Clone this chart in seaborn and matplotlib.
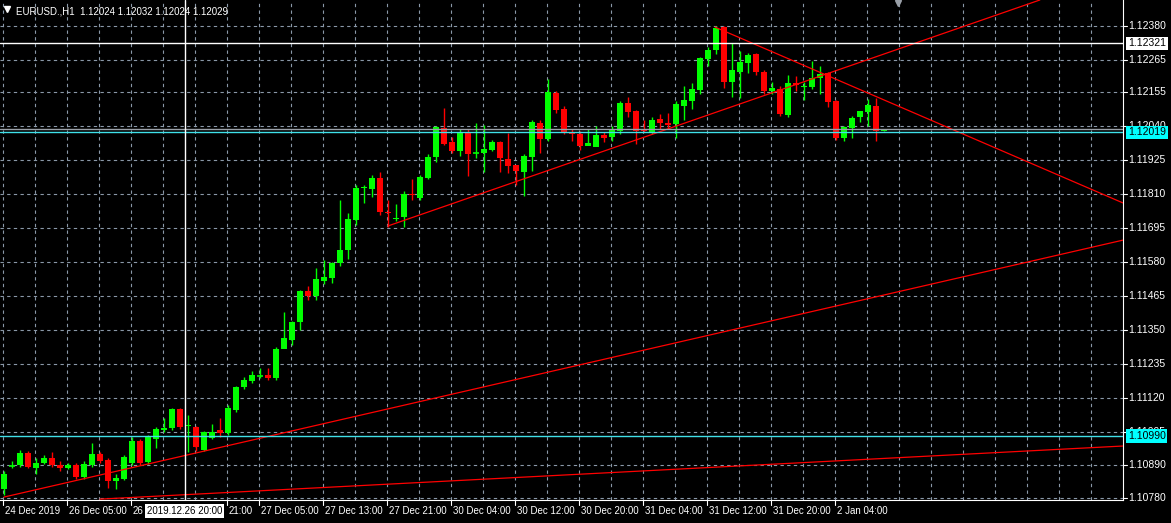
import seaborn as sns
import pandas as pd
import matplotlib.pyplot as plt
from matplotlib.patches import Rectangle

opens = [1.10810, 1.10888, 1.10892, 1.10932, 1.10882, 1.10898, 1.10916, 1.10892, 1.10882, 1.10892,
         1.10851, 1.10892, 1.10929, 1.10909, 1.10837, 1.10844, 1.10898, 1.10973, 1.10902, 1.10980,
         1.11010, 1.11017, 1.11081, 1.11024, 1.11020, 1.10943, 1.10983, 1.11010, 1.11000, 1.11078,
         1.11156, 1.11176, 1.11193, 1.11197, 1.11187, 1.11285, 1.11315, 1.11376, 1.11481, 1.11465,
         1.11515, 1.11526, 1.11576, 1.11620, 1.11722, 1.11831, 1.11827, 1.11865, 1.11749, 1.11726,
         1.11732, 1.11810, 1.11797, 1.11865, 1.11936, 1.12034, 1.11987, 1.11956, 1.12020, 1.11949,
         1.11949, 1.11959, 1.11987, 1.11929, 1.11909, 1.11885, 1.11936, 1.12051, 1.11997, 1.12153,
         1.12098, 1.12020, 1.12014, 1.11973, 1.11970, 1.12010, 1.12004, 1.12024, 1.12119, 1.12092,
         1.12031, 1.12020, 1.12065, 1.12051, 1.12048, 1.12109, 1.12126, 1.12163, 1.12268, 1.12298,
         1.12376, 1.12190, 1.12224, 1.12254, 1.12285, 1.12224, 1.12160, 1.12166, 1.12078, 1.12187,
         1.12173, 1.12173, 1.12204, 1.12221, 1.12126, 1.12000, 1.12034, 1.12071, 1.12088, 1.12109,
         1.12024]
closes = [1.10861, 1.10890, 1.10932, 1.10885, 1.10898, 1.10916, 1.10892, 1.10882, 1.10892, 1.10851,
          1.10895, 1.10929, 1.10905, 1.10837, 1.10848, 1.10919, 1.10973, 1.10898, 1.10987, 1.11013,
          1.11017, 1.11081, 1.11020, 1.11026, 1.10953, 1.11003, 1.11003, 1.11000, 1.11085, 1.11156,
          1.11180, 1.11197, 1.11195, 1.11187, 1.11285, 1.11322, 1.11376, 1.11481, 1.11465, 1.11522,
          1.11529, 1.11576, 1.11620, 1.11726, 1.11831, 1.11833, 1.11865, 1.11749, 1.11746, 1.11728,
          1.11810, 1.11807, 1.11868, 1.11936, 1.12037, 1.11980, 1.11956, 1.12017, 1.11946, 1.11951,
          1.11963, 1.11987, 1.11932, 1.11905, 1.11888, 1.11939, 1.12054, 1.11997, 1.12156, 1.12095,
          1.12020, 1.12014, 1.11973, 1.11983, 1.12010, 1.12000, 1.12027, 1.12119, 1.12088, 1.12024,
          1.12024, 1.12061, 1.12051, 1.12044, 1.12115, 1.12129, 1.12166, 1.12271, 1.12298, 1.12373,
          1.12190, 1.12231, 1.12258, 1.12282, 1.12224, 1.12160, 1.12170, 1.12081, 1.12187, 1.12180,
          1.12177, 1.12204, 1.12217, 1.12122, 1.12000, 1.12037, 1.12068, 1.12092, 1.12112, 1.12024,
          1.12029]
highs = [1.10870, 1.10905, 1.10942, 1.10940, 1.10915, 1.10925, 1.10935, 1.10905, 1.10900, 1.10900,
         1.10905, 1.10965, 1.10935, 1.10915, 1.10860, 1.10925, 1.10985, 1.10980, 1.10995, 1.11020,
         1.11050, 1.11085, 1.11085, 1.11060, 1.11025, 1.11008, 1.11030, 1.11050, 1.11095, 1.11160,
         1.11190, 1.11210, 1.11220, 1.11220, 1.11290, 1.11410, 1.11380, 1.11485, 1.11500, 1.11560,
         1.11585, 1.11580, 1.11790, 1.11745, 1.11840, 1.11840, 1.11875, 1.11885, 1.11790, 1.11775,
         1.11820, 1.11860, 1.11875, 1.11945, 1.12040, 1.12102, 1.12005, 1.12030, 1.12030, 1.12051,
         1.12044, 1.11995, 1.11990, 1.12017, 1.11900, 1.11945, 1.12060, 1.12060, 1.12200, 1.12160,
         1.12110, 1.12030, 1.12025, 1.12030, 1.12040, 1.12020, 1.12040, 1.12125, 1.12140, 1.12095,
         1.12060, 1.12070, 1.12080, 1.12085, 1.12125, 1.12175, 1.12185, 1.12275, 1.12310, 1.12380,
         1.12380, 1.12322, 1.12295, 1.12290, 1.12290, 1.12230, 1.12190, 1.12175, 1.12215, 1.12210,
         1.12190, 1.12260, 1.12245, 1.12225, 1.12130, 1.12040, 1.12075, 1.12092, 1.12132, 1.12135,
         1.12032]
lows = [1.10790, 1.10880, 1.10885, 1.10880, 1.10860, 1.10895, 1.10885, 1.10870, 1.10878, 1.10845,
        1.10845, 1.10885, 1.10898, 1.10815, 1.10810, 1.10840, 1.10890, 1.10890, 1.10895, 1.10950,
        1.11005, 1.11010, 1.11015, 1.10935, 1.10940, 1.10938, 1.10980, 1.10985, 1.10995, 1.11070,
        1.11150, 1.11170, 1.11185, 1.11180, 1.11180, 1.11310, 1.11300, 1.11350, 1.11450, 1.11450,
        1.11505, 1.11510, 1.11565, 1.11590, 1.11705, 1.11780, 1.11800, 1.11740, 1.11700, 1.11720,
        1.11700, 1.11790, 1.11790, 1.11860, 1.11920, 1.11975, 1.11950, 1.11940, 1.11870, 1.11932,
        1.11885, 1.11955, 1.11885, 1.11880, 1.11840, 1.11804, 1.11890, 1.11950, 1.11990, 1.12085,
        1.12015, 1.11990, 1.11960, 1.11975, 1.11975, 1.11985, 1.11990, 1.12015, 1.12070, 1.11980,
        1.12020, 1.12015, 1.12030, 1.12030, 1.12000, 1.12060, 1.12100, 1.12150, 1.12245, 1.12285,
        1.12170, 1.12140, 1.12135, 1.12220, 1.12215, 1.12150, 1.12150, 1.12075, 1.12070, 1.12160,
        1.12130, 1.12165, 1.12150, 1.12105, 1.11995, 1.11990, 1.12000, 1.12055, 1.12040, 1.11990,
        1.12024]

price_ticks = [1.12380, 1.12265, 1.12155, 1.12040, 1.11925, 1.11810, 1.11695, 1.11580,
               1.11465, 1.11350, 1.11235, 1.11120, 1.11005, 1.10890, 1.10780]
time_labels = ["24 Dec 2019", "26 Dec 05:00", "26", "21:00", "27 Dec 05:00", "27 Dec 13:00",
               "27 Dec 21:00", "30 Dec 04:00", "30 Dec 12:00", "30 Dec 20:00", "31 Dec 04:00",
               "31 Dec 12:00", "31 Dec 20:00", "2 Jan 04:00"]
time_label_bars = [0, 8, 16, 28, 32, 40, 48, 56, 64, 72, 80, 88, 96, 104]

# trend lines: (bar, price) start/end
trend_lines = [
    ([48, 129.5], [1.11702, 1.12468]),
    ([88.9, 139.9], [1.12376, 1.11780]),
    ([0, 139.9], [1.10783, 1.11654]),
    ([12, 139.9], [1.10776, 1.10956]),
]
hlines = {"1.12321": (1.12321, "white", "white", "black"),
          "1.12019": (1.12019, "#40e0e8", "#00ffff", "black"),
          "1.10990": (1.10990, "#40e0e8", "#00ffff", "black")}
bid_price = 1.12029

sns.set_style("dark")
plt.rcParams["font.family"] = ["Liberation Sans", "DejaVu Sans"]
fig = plt.figure(figsize=(11.71, 5.23), dpi=100, facecolor="black")
ax = fig.add_axes([0, 23 / 523, 1123 / 1171, 500 / 523])
ax.set_facecolor("black")
xmin, xmax = -0.5, 139.9
ymin, ymax = 1.10773, 1.12468
ax.set_xlim(xmin, xmax)
ax.set_ylim(ymin, ymax)

grid_c = "#8a98a8"
for p in price_ticks:
    ax.axhline(p, color=grid_c, lw=0.8, ls=(0, (3, 3)), zorder=0)
k = 0
while k * 4 - 0.1 < xmax:
    ax.axvline(k * 4 - 0.1, color=grid_c, lw=0.8, ls=(0, (3, 3)), zorder=0)
    k += 1

df = pd.DataFrame({"o": opens, "c": closes, "h": highs, "l": lows})
df["bar"] = range(len(df))
for _, r in df.iterrows():
    col = "#00ff00" if r.c >= r.o else "#ff0000"
    ax.vlines(r.bar, r.l, r.h, color=col, lw=1, zorder=2)
    lo, hi = min(r.o, r.c), max(r.o, r.c)
    if hi - lo < 0.00002:
        ax.hlines(lo, r.bar - 0.35, r.bar + 0.35, color=col, lw=1.2, zorder=3)
    else:
        ax.add_patch(Rectangle((r.bar - 0.35, lo), 0.7, hi - lo, color=col, lw=0, zorder=3))

for xs, ys in trend_lines:
    sns.lineplot(x=xs, y=ys, ax=ax, color="#ff0000", lw=0.9, zorder=4)

ax.axhline(bid_price, color="#9aa0a8", lw=1, zorder=4)
for txt, (p, lc, bc, tc) in hlines.items():
    ax.axhline(p, color=lc, lw=1, zorder=4)
ax.axvline(22.6, color="white", lw=1, zorder=5)

ax.set_xticks([])
ax.set_yticks([])
for s in ax.spines.values():
    s.set_visible(False)
ax.spines["right"].set_visible(True)
ax.spines["right"].set_color("white")
ax.spines["bottom"].set_visible(True)
ax.spines["bottom"].set_color("white")

trans_y = ax.get_yaxis_transform()
for p in price_ticks:
    ax.plot([1.0, 1.004], [p, p], color="white", lw=0.8, transform=trans_y, clip_on=False)
    ax.text(1.0045, p, f"{p:.5f}", color="white", fontsize=7.5, va="center", ha="left",
            transform=trans_y, clip_on=False)
for txt, (p, lc, bc, tc) in hlines.items():
    ax.text(1.0045, p, txt, color=tc, fontsize=7.5, va="center", ha="left", transform=trans_y,
            clip_on=False, zorder=10,
            bbox=dict(boxstyle="square,pad=0.15", fc=bc, ec="none"))

trans_x = ax.get_xaxis_transform()
for b, lab in zip(time_label_bars, time_labels):
    ax.plot([b - 0.1, b - 0.1], [0, -0.01], color="white", lw=0.8, transform=trans_x, clip_on=False)
    ax.text(b + 0.1, -0.022, lab, color="white", fontsize=7, va="center", ha="left",
            transform=trans_x, clip_on=False)
ax.text(17.9, -0.022, "2019.12.26 20:00", color="black", fontsize=7, va="center", ha="left",
        transform=trans_x, clip_on=False, zorder=10,
        bbox=dict(boxstyle="square,pad=0.2", fc="white", ec="none"))

ax.text(0.014, 0.988, "EURUSD.,H1  1.12024 1.12032 1.12024 1.12029", color="white",
        fontsize=7, va="top", ha="left", transform=ax.transAxes)
ax.plot([0.006], [0.983], marker="v", ms=4, color="white", transform=ax.transAxes)
ax.plot([0.8], [0.995], marker="v", ms=5, color="#9aa0a8", transform=ax.transAxes, clip_on=False)

fig.savefig("out.png", dpi=100, facecolor="black")
